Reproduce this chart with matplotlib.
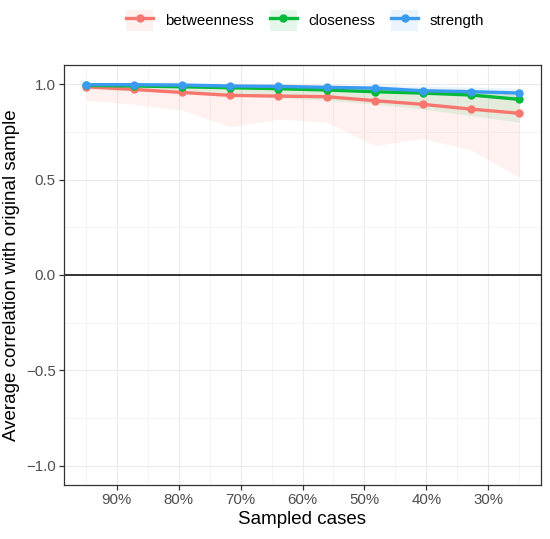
import matplotlib
matplotlib.use("Agg")
import matplotlib.pyplot as plt
from matplotlib.patches import Patch
from matplotlib.lines import Line2D
from matplotlib.ticker import FixedLocator, FuncFormatter

plt.rcParams['font.family'] = ['Liberation Sans', 'DejaVu Sans']

# Data
sampled = [0.95, 0.872, 0.794, 0.717, 0.639, 0.561, 0.483, 0.406, 0.328, 0.25]
series_names = ["betweenness", "closeness", "strength"]
betweenness = [0.986, 0.972, 0.956, 0.941, 0.937, 0.934, 0.913, 0.894, 0.869, 0.847]
betweenness_lo = [0.916, 0.895, 0.864, 0.777, 0.817, 0.800, 0.678, 0.716, 0.655, 0.512]
betweenness_hi = [1.0, 0.998, 0.995, 0.99, 0.99, 0.985, 0.98, 0.975, 0.965, 0.955]
closeness = [0.993, 0.990, 0.986, 0.981, 0.976, 0.969, 0.960, 0.953, 0.943, 0.920]
closeness_lo = [0.975, 0.965, 0.955, 0.94, 0.93, 0.915, 0.895, 0.87, 0.835, 0.80]
closeness_hi = [1.0, 0.999, 0.998, 0.996, 0.994, 0.99, 0.985, 0.98, 0.975, 0.965]
strength = [0.997, 0.997, 0.995, 0.990, 0.988, 0.983, 0.979, 0.965, 0.960, 0.953]
strength_lo = [0.99, 0.985, 0.98, 0.975, 0.97, 0.965, 0.955, 0.945, 0.935, 0.925]
strength_hi = [1.0, 1.0, 0.999, 0.998, 0.997, 0.995, 0.993, 0.99, 0.985, 0.978]

x_ticks = [0.9, 0.8, 0.7, 0.6, 0.5, 0.4, 0.3]
x_minor = [0.95, 0.85, 0.75, 0.65, 0.55, 0.45, 0.35, 0.25]
y_ticks = [-1.0, -0.5, 0.0, 0.5, 1.0]
y_minor = [-0.75, -0.25, 0.25, 0.75]

colors = ["#F8766D", "#00BA38", "#3A9BF0"]
means = [betweenness, closeness, strength]
los = [betweenness_lo, closeness_lo, strength_lo]
his = [betweenness_hi, closeness_hi, strength_hi]

fig = plt.figure(figsize=(5.5, 5.39), dpi=100)
ax = fig.add_axes([0.1164, 0.1002, 0.9836 - 0.1164, 0.8794 - 0.1002])

# grid
for v in x_ticks:
    ax.axvline(v, color="#EBEBEB", lw=0.8, zorder=0)
for v in x_minor:
    ax.axvline(v, color="#F2F2F2", lw=0.5, zorder=0)
for v in y_ticks:
    ax.axhline(v, color="#EBEBEB", lw=0.8, zorder=0)
for v in y_minor:
    ax.axhline(v, color="#F2F2F2", lw=0.5, zorder=0)

ax.axhline(0, color="black", lw=1.1, zorder=1)

for c, lo, hi in zip(colors, los, his):
    ax.fill_between(sampled, lo, hi, color=c, alpha=0.1, lw=0, zorder=2)
for c, m in zip(colors, means):
    ax.plot(sampled, m, color=c, lw=2.4, marker="o", ms=5, zorder=3,
            solid_capstyle="butt")

ax.set_xlim(0.985, 0.215)
ax.set_ylim(-1.1, 1.1)
ax.xaxis.set_major_locator(FixedLocator(x_ticks))
ax.xaxis.set_major_formatter(FuncFormatter(lambda v, p: f"{int(round(v*100))}%"))
ax.yaxis.set_major_locator(FixedLocator(y_ticks))
ax.yaxis.set_major_formatter(FuncFormatter(lambda v, p: f"{v:.1f}".replace("-", "\u2212")))

for s in ax.spines.values():
    s.set_color("#333333")
    s.set_linewidth(0.9)
ax.tick_params(axis="both", colors="#333333", length=3.5, width=0.9,
               labelsize=10.8, labelcolor="#4D4D4D", pad=2.5)

ax.set_xlabel("Sampled cases", fontsize=13.5, labelpad=3)
ax.set_ylabel("Average correlation with original sample", fontsize=13.5, labelpad=4)

handles = []
for c in colors:
    p = Patch(facecolor=c, alpha=0.1, edgecolor="none")
    l = Line2D([0], [0], color=c, lw=2.4, marker="o", ms=5)
    handles.append((p, l))
fig.legend(handles, series_names, loc="center", bbox_to_anchor=(0.555, 0.962),
           ncol=3, frameon=False, fontsize=10.8, handlelength=1.8,
           handleheight=1.8, handletextpad=0.75, columnspacing=1.1)

fig.savefig("out.png", dpi=100)
